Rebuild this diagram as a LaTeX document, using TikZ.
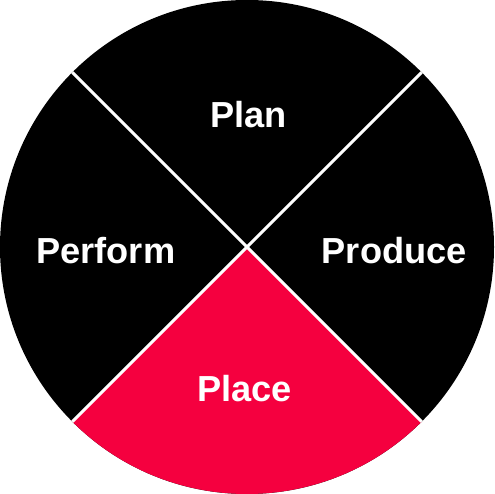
\documentclass[tikz,border=0pt]{standalone}
\usepackage{fontspec}
\setmainfont{Liberation Sans}
\definecolor{rosso}{HTML}{F5003F}
\begin{document}
\begin{tikzpicture}[x=1pt,y=1pt,
  lbl/.style={text=white,font=\fontsize{36.2}{42}\selectfont\bfseries,anchor=base,inner sep=0pt},
  divider/.style={draw=white,line width=3pt}]
\useasboundingbox (-247,-247) rectangle (247,247);
\coordinate (c) at (0,0);
\fill[black] (c) circle (247);
\fill[rosso] (c) -- (-135:247) arc (-135:-45:247) -- cycle;
\coordinate (nw) at (135:247);
\coordinate (ne) at (45:247);
\coordinate (sw) at (-135:247);
\coordinate (se) at (-45:247);
\draw[divider] (nw) -- (se);
\draw[divider] (ne) -- (sw);
\node[lbl] (plan) at (1.3,119.7) {Plan};
\node[lbl] (perform) at (-141.2,-17) {Perform};
\node[lbl] (produce) at (147.2,-17) {Produce};
\node[lbl] (place) at (-2.3,-154.7) {Place};
\end{tikzpicture}
\end{document}
